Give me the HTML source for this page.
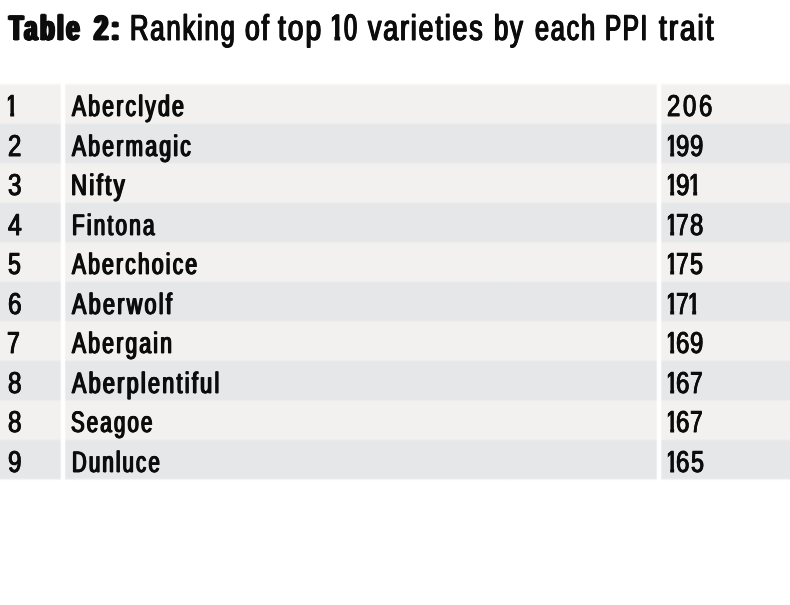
<!DOCTYPE html>
<html lang="en"><head><meta charset="utf-8"><title>Table 2: Ranking of top 10 varieties by each PPI trait</title>
<style>
html,body{margin:0;padding:0;background:#fff;}
body{width:790px;height:605px;position:relative;overflow:hidden;font-family:"Liberation Sans",sans-serif;color:#0d0d0d;text-rendering:geometricPrecision;}
.t{position:absolute;white-space:nowrap;transform-origin:0 0;line-height:1;display:block;}
h1,table,tbody,tr,td{margin:0;padding:0;border:0;display:block;font-weight:normal;}
.stripes{position:absolute;left:0;top:80px;width:790px;height:405px;background:linear-gradient(to bottom,#fff 2.60px,#f2f1ef 5.80px,#f2f1ef 42.62px,#e6e7e9 44.82px,#e6e7e9 82.14px,#f2f1ef 84.34px,#f2f1ef 121.66px,#e6e7e9 123.86px,#e6e7e9 161.18px,#f2f1ef 163.38px,#f2f1ef 200.70px,#e6e7e9 202.90px,#e6e7e9 240.22px,#f2f1ef 242.42px,#f2f1ef 279.74px,#e6e7e9 281.94px,#e6e7e9 319.26px,#f2f1ef 321.46px,#f2f1ef 358.78px,#e6e7e9 360.98px,#e6e7e9 398.10px,#fff 400.70px);}
.sep{position:absolute;top:80px;height:405px;width:6px;background:linear-gradient(to right,rgba(255,255,255,0),#fff 1.6px,#fff 4.4px,rgba(255,255,255,0) 6px);}
.c{font-size:29.6px;font-weight:normal;-webkit-text-stroke:0.75px #0d0d0d;letter-spacing:3.2px;text-shadow:1.1px 0 #0d0d0d,-1.1px 0 #0d0d0d;}
.d{font-size:30.2px;letter-spacing:0;-webkit-text-stroke:0.8px #0d0d0d;text-shadow:0.5px 0 #0d0d0d,-0.5px 0 #0d0d0d;}
.h{font-size:35.9px;font-weight:normal;-webkit-text-stroke:1.0px #0d0d0d;letter-spacing:2.5px;text-shadow:1.0px 0 #0d0d0d,-1.0px 0 #0d0d0d;}
.hd{font-size:36.8px;}
.hb{font-size:35.3px;font-weight:bold;-webkit-text-stroke:1.1px #0d0d0d;letter-spacing:3.9px;text-shadow:2.3px 0 #0d0d0d,-2.3px 0 #0d0d0d,1.15px 0 #0d0d0d,-1.15px 0 #0d0d0d;}
</style></head><body>

<h1>
<b class="t hb" style="left:9.31px;top:11px;transform:scaleX(0.6704)">Table</b> <b class="t hb" style="left:93.64px;top:11px;transform:scaleX(0.7225)">2:</b>
<span class="t h" style="left:129.74px;top:11px;transform:scaleX(0.7151)">Ranking</span> <span class="t h" style="left:244.57px;top:11px;transform:scaleX(0.7360)">of</span> <span class="t h" style="left:278.28px;top:11px;transform:scaleX(0.7851)">top</span> <span class="t h hd" style="left:328.39px;top:10px;transform:scaleX(0.8500);clip-path:polygon(4.36px -5px,14.41px -5px,14.41px 44.2px,7.50px 44.2px,7.50px 25.00px,4.36px 25.00px)">1</span><span class="t h hd" style="left:344.02px;top:10px;transform:scaleX(0.6409)">0</span> <span class="t h" style="left:368.22px;top:11px;transform:scaleX(0.7463)">varieties</span> <span class="t h" style="left:493.64px;top:11px;transform:scaleX(0.7163)">by</span> <span class="t h" style="left:534.65px;top:11px;transform:scaleX(0.7040)">each</span> <span class="t h" style="left:605.46px;top:11px;transform:scaleX(0.6718)">PPI</span> <span class="t h" style="left:658.87px;top:11px;transform:scaleX(0.7796)">trait</span>
</h1>
<div class="stripes"></div>
<div class="sep" style="left:60px"></div><div class="sep" style="left:656px"></div>
<table>
<tr><td><span class="t c d" style="left:5.17px;top:92px;transform:scaleX(0.8000);clip-path:polygon(3.29px -5px,11.56px -5px,11.56px 36.2px,6.44px 36.2px,6.44px 20.00px,3.29px 20.00px)">1</span></td><td><span class="t c" style="left:72.05px;top:92px;transform:scaleX(0.7114)">Aberclyde</span></td><td><span class="t c d" style="left:667.42px;top:92px;transform:scaleX(0.7917)">2</span><span class="t c d" style="left:683.02px;top:92px;transform:scaleX(0.7917)">0</span><span class="t c d" style="left:698.82px;top:92px;transform:scaleX(0.7917)">6</span></td></tr>
<tr><td><span class="t c d" style="left:7.82px;top:132px;transform:scaleX(0.7917)">2</span></td><td><span class="t c" style="left:72.05px;top:132px;transform:scaleX(0.7115)">Abermagic</span></td><td><span class="t c d" style="left:664.57px;top:132px;transform:scaleX(0.8000);clip-path:polygon(3.29px -5px,11.56px -5px,11.56px 36.2px,6.44px 36.2px,6.44px 20.00px,3.29px 20.00px)">1</span><span class="t c d" style="left:675.82px;top:132px;transform:scaleX(0.7917)">9</span><span class="t c d" style="left:690.12px;top:132px;transform:scaleX(0.7917)">9</span></td></tr>
<tr><td><span class="t c d" style="left:7.62px;top:171px;transform:scaleX(0.8036)">3</span></td><td><span class="t c" style="left:71.01px;top:171px;transform:scaleX(0.7465)">Nifty</span></td><td><span class="t c d" style="left:664.57px;top:171px;transform:scaleX(0.8000);clip-path:polygon(3.29px -5px,11.56px -5px,11.56px 36.2px,6.44px 36.2px,6.44px 20.00px,3.29px 20.00px)">1</span><span class="t c d" style="left:675.82px;top:171px;transform:scaleX(0.8036)">9</span><span class="t c d" style="left:687.57px;top:171px;transform:scaleX(0.8000);clip-path:polygon(2.91px -5px,11.56px -5px,11.56px 36.2px,6.44px 36.2px,6.44px 20.00px,2.91px 20.00px)">1</span></td></tr>
<tr><td><span class="t c d" style="left:7.94px;top:211px;transform:scaleX(0.8202)">4</span></td><td><span class="t c" style="left:71.73px;top:211px;transform:scaleX(0.6993)">Fintona</span></td><td><span class="t c d" style="left:664.57px;top:211px;transform:scaleX(0.8000);clip-path:polygon(3.29px -5px,11.56px -5px,11.56px 36.2px,6.44px 36.2px,6.44px 20.00px,3.29px 20.00px)">1</span><span class="t c d" style="left:675.82px;top:211px;transform:scaleX(0.7500)">7</span><span class="t c d" style="left:689.72px;top:211px;transform:scaleX(0.7917)">8</span></td></tr>
<tr><td><span class="t c d" style="left:8.22px;top:250px;transform:scaleX(0.7679)">5</span></td><td><span class="t c" style="left:72.04px;top:250px;transform:scaleX(0.7070)">Aberchoice</span></td><td><span class="t c d" style="left:664.57px;top:250px;transform:scaleX(0.8000);clip-path:polygon(3.29px -5px,11.56px -5px,11.56px 36.2px,6.44px 36.2px,6.44px 20.00px,3.29px 20.00px)">1</span><span class="t c d" style="left:675.82px;top:250px;transform:scaleX(0.7500)">7</span><span class="t c d" style="left:689.72px;top:250px;transform:scaleX(0.7738)">5</span></td></tr>
<tr><td><span class="t c d" style="left:7.82px;top:290px;transform:scaleX(0.8095)">6</span></td><td><span class="t c" style="left:72.07px;top:290px;transform:scaleX(0.7263)">Aberwolf</span></td><td><span class="t c d" style="left:664.57px;top:290px;transform:scaleX(0.8000);clip-path:polygon(3.29px -5px,11.56px -5px,11.56px 36.2px,6.44px 36.2px,6.44px 20.00px,3.29px 20.00px)">1</span><span class="t c d" style="left:675.82px;top:290px;transform:scaleX(0.7500)">7</span><span class="t c d" style="left:686.87px;top:290px;transform:scaleX(0.8000);clip-path:polygon(2.91px -5px,11.56px -5px,11.56px 36.2px,6.44px 36.2px,6.44px 20.00px,2.91px 20.00px)">1</span></td></tr>
<tr><td><span class="t c d" style="left:7.42px;top:329px;transform:scaleX(0.7619)">7</span></td><td><span class="t c" style="left:72.05px;top:329px;transform:scaleX(0.7095)">Abergain</span></td><td><span class="t c d" style="left:664.57px;top:329px;transform:scaleX(0.8000);clip-path:polygon(3.29px -5px,11.56px -5px,11.56px 36.2px,6.44px 36.2px,6.44px 20.00px,3.29px 20.00px)">1</span><span class="t c d" style="left:676.12px;top:329px;transform:scaleX(0.7976)">6</span><span class="t c d" style="left:690.42px;top:329px;transform:scaleX(0.7917)">9</span></td></tr>
<tr><td><span class="t c d" style="left:7.72px;top:369px;transform:scaleX(0.8036)">8</span></td><td><span class="t c" style="left:72.07px;top:369px;transform:scaleX(0.7254)">Aberplentiful</span></td><td><span class="t c d" style="left:664.57px;top:369px;transform:scaleX(0.8000);clip-path:polygon(3.29px -5px,11.56px -5px,11.56px 36.2px,6.44px 36.2px,6.44px 20.00px,3.29px 20.00px)">1</span><span class="t c d" style="left:676.12px;top:369px;transform:scaleX(0.7976)">6</span><span class="t c d" style="left:690.12px;top:369px;transform:scaleX(0.7500)">7</span></td></tr>
<tr><td><span class="t c d" style="left:7.72px;top:408px;transform:scaleX(0.8036)">8</span></td><td><span class="t c" style="left:71.33px;top:408px;transform:scaleX(0.6894)">Seagoe</span></td><td><span class="t c d" style="left:664.57px;top:408px;transform:scaleX(0.8000);clip-path:polygon(3.29px -5px,11.56px -5px,11.56px 36.2px,6.44px 36.2px,6.44px 20.00px,3.29px 20.00px)">1</span><span class="t c d" style="left:676.12px;top:408px;transform:scaleX(0.7976)">6</span><span class="t c d" style="left:690.12px;top:408px;transform:scaleX(0.7500)">7</span></td></tr>
<tr><td><span class="t c d" style="left:7.72px;top:448px;transform:scaleX(0.8036)">9</span></td><td><span class="t c" style="left:71.74px;top:448px;transform:scaleX(0.6868)">Dunluce</span></td><td><span class="t c d" style="left:664.57px;top:448px;transform:scaleX(0.8000);clip-path:polygon(3.29px -5px,11.56px -5px,11.56px 36.2px,6.44px 36.2px,6.44px 20.00px,3.29px 20.00px)">1</span><span class="t c d" style="left:676.12px;top:448px;transform:scaleX(0.7976)">6</span><span class="t c d" style="left:690.72px;top:448px;transform:scaleX(0.7738)">5</span></td></tr>
</table>
</body></html>
